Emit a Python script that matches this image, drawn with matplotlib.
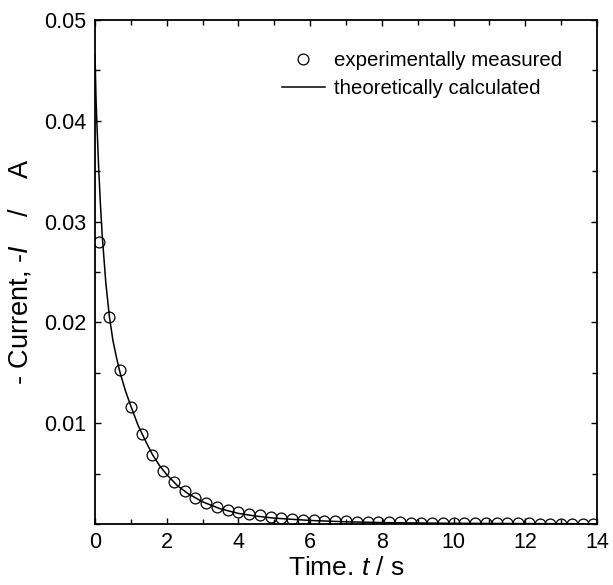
import numpy as np
import matplotlib
matplotlib.use('Agg')
import matplotlib.pyplot as plt
from matplotlib.ticker import MultipleLocator, FixedLocator

plt.rcParams['font.family'] = ['Liberation Sans', 'DejaVu Sans']
plt.rcParams['mathtext.fontset'] = 'custom'
plt.rcParams['mathtext.it'] = 'Liberation Sans:italic'
plt.rcParams['mathtext.rm'] = 'Liberation Sans'

# experimentally measured (circles)
t_meas = [0.1, 0.4, 0.7, 1.0, 1.3, 1.6, 1.9, 2.2, 2.5, 2.8, 3.1, 3.4, 3.7, 4.0,
          4.3, 4.6, 4.9, 5.2, 5.5, 5.8, 6.1, 6.4, 6.7, 7.0, 7.3, 7.6, 7.9, 8.2,
          8.5, 8.8, 9.1, 9.4, 9.7, 10.0, 10.3, 10.6, 10.9, 11.2, 11.5, 11.8,
          12.1, 12.4, 12.7, 13.0, 13.3, 13.6, 13.9]
i_meas = [0.0280, 0.0205, 0.0153, 0.0116, 0.0089, 0.0068, 0.0053, 0.0042,
          0.0033, 0.0026, 0.0021, 0.0017, 0.0014, 0.0012, 0.00100, 0.00085,
          0.00070, 0.00060, 0.00050, 0.00043, 0.00037, 0.00032, 0.00028,
          0.00025, 0.00022, 0.00020, 0.00018, 0.00016, 0.00015, 0.00013,
          0.00012, 0.00011, 0.00010, 0.00009, 0.00008, 0.00008, 0.00007,
          0.00006, 0.00006, 0.00005, 0.00005, 0.00004, 0.00004, 0.00004,
          0.00003, 0.00003, 0.00003]

# theoretically calculated (line)
t_calc = [0.0, 0.03, 0.05, 0.1, 0.15, 0.2, 0.3, 0.4, 0.5, 0.6, 0.7, 0.85, 1.0,
          1.2, 1.4, 1.6, 1.8, 2.0, 2.3, 2.6, 3.0, 3.5, 4.0, 4.5, 5.0, 6.0, 7.0,
          8.0, 9.0, 10.0, 12.0, 14.0]
i_calc = [0.0465, 0.0420, 0.0400, 0.0355, 0.0318, 0.0287, 0.0240, 0.0206,
          0.0182, 0.0165, 0.0150, 0.0132, 0.0117, 0.0098, 0.0083, 0.0069,
          0.0058, 0.0049, 0.0038, 0.0030, 0.0022, 0.0015, 0.00105, 0.00078,
          0.00058, 0.00035, 0.00022, 0.00014, 0.00010, 0.00007, 0.00004,
          0.00002]

y_ticks = [0.01, 0.02, 0.03, 0.04, 0.05]
y_ticklabels = ['0.01', '0.02', '0.03', '0.04', '0.05']

fig = plt.figure(figsize=(6.13, 5.85), dpi=100)
ax = fig.add_axes([95/613, 1-524/585, 502/613, 504/585])

ax.plot(t_calc, i_calc, color='black', lw=1.1, label='theoretically calculated')
ax.plot(t_meas, i_meas, ls='none', marker='o', ms=7.8, mfc='none', mec='black',
        mew=0.9, label='experimentally measured')

ax.set_xlim(0, 14)
ax.set_ylim(0, 0.05)
ax.xaxis.set_major_locator(MultipleLocator(2))
ax.xaxis.set_minor_locator(MultipleLocator(1))
ax.yaxis.set_major_locator(FixedLocator(y_ticks))
ax.set_yticklabels(y_ticklabels)
ax.yaxis.set_minor_locator(MultipleLocator(0.005))

ax.tick_params(which='both', direction='in', top=True, right=True, width=1,
               labelsize=15.5, pad=6)
ax.tick_params(which='major', length=4)
ax.tick_params(which='minor', length=3.5)
for s in ax.spines.values():
    s.set_linewidth(1.3)

ax.set_xlabel(r'Time. $\mathit{t}$ / s', fontsize=19, labelpad=2)
ax.set_ylabel(r'- Current, -$\mathit{I}$    /    A', fontsize=19.5, labelpad=8)

h, l = ax.get_legend_handles_labels()
ax.legend(h[::-1], l[::-1], loc='upper left', bbox_to_anchor=(0.372, 0.938),
          frameon=False, fontsize=14.7, handlelength=2.1, handletextpad=0.45,
          borderpad=0, borderaxespad=0, labelspacing=0.45)

fig.savefig('out.png', dpi=100)
